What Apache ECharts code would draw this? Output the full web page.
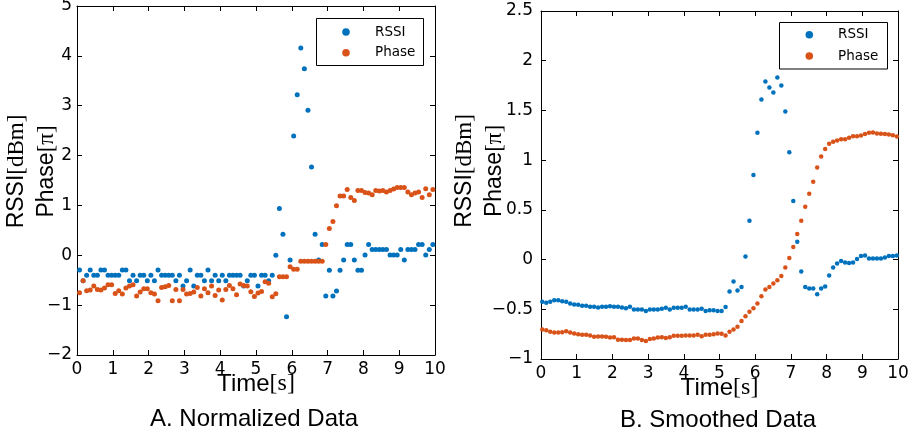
<!DOCTYPE html>
<html><head><meta charset="utf-8">
<script src="https://cdn.jsdelivr.net/npm/echarts@6/dist/echarts.min.js"></script>
<style>html,body{margin:0;padding:0;background:#fff}#c{width:921px;height:442px}</style>
</head><body><div id="c"></div>
<script>
// ---- Data ----
// A. Normalized data: 100 samples
const rssiA = [
 -0.295,-0.51,-0.402,-0.295,-0.402,-0.402,-0.295,-0.295,-0.402,-0.402,
 -0.402,-0.402,-0.295,-0.295,-0.51,-0.402,-0.51,-0.402,-0.402,-0.51,
 -0.402,-0.51,-0.295,-0.402,-0.402,-0.402,-0.402,-0.51,-0.402,-0.617,
 -0.51,-0.295,-0.617,-0.402,-0.402,-0.51,-0.295,-0.51,-0.402,-0.51,
 -0.402,-0.51,-0.402,-0.402,-0.402,-0.402,-0.617,-0.51,-0.402,-0.402,
 -0.617,-0.402,-0.402,-0.51,-0.402,0.0,0.939,0.423,-1.234,-0.094,
 2.394,3.219,4.159,3.742,2.911,1.771,0.423,-0.094,0.215,-0.818,
 -0.302,-0.818,-0.718,-0.302,-0.094,0.215,0.215,-0.094,-0.302,-0.302,
 0.007,0.215,0.114,0.114,0.114,0.114,0.114,0.007,0.007,0.007,
 0.114,-0.094,0.114,0.114,0.114,0.215,0.215,0.007,0.114,0.215
];
const phaseA = [
 -0.751,-0.510,-0.711,-0.698,-0.617,-0.684,-0.698,-0.657,-0.590,-0.590,
 -0.765,-0.711,-0.778,-0.657,-0.617,-0.590,-0.818,-0.738,-0.671,-0.671,
 -0.751,-0.778,-0.912,-0.644,-0.630,-0.604,-0.912,-0.684,-0.912,-0.684,
 -0.778,-0.765,-0.738,-0.644,-0.818,-0.671,-0.751,-0.617,-0.805,-0.698,
 -0.899,-0.684,-0.604,-0.671,-0.791,-0.577,-0.604,-0.617,-0.731,-0.825,
 -0.758,-0.724,-0.530,-0.563,-0.832,-0.771,-0.429,-0.429,-0.429,-0.228,
 -0.282,-0.282,-0.121,-0.121,-0.121,-0.121,-0.121,-0.121,-0.121,0.215,
 0.537,0.677,0.993,1.187,1.187,1.321,1.160,1.100,1.301,1.301,
 1.261,1.247,1.214,1.301,1.288,1.301,1.268,1.301,1.328,1.361,
 1.361,1.361,1.268,1.214,1.247,1.268,1.160,1.335,1.214,1.321
];
// B. Smoothed data: 90 samples
const rssiB = [
 -0.425,-0.435,-0.425,-0.408,-0.408,-0.418,-0.425,-0.442,-0.452,-0.455,
 -0.465,-0.465,-0.475,-0.475,-0.482,-0.475,-0.475,-0.469,-0.475,-0.475,
 -0.482,-0.489,-0.475,-0.502,-0.502,-0.502,-0.516,-0.502,-0.502,-0.502,
 -0.495,-0.485,-0.502,-0.485,-0.485,-0.485,-0.475,-0.502,-0.502,-0.502,
 -0.495,-0.516,-0.509,-0.509,-0.516,-0.516,-0.476,
 -0.32,-0.22,-0.31,-0.275,0.03,0.39,0.85,1.275,1.61,1.79,
 1.73,1.68,1.83,1.75,1.49,1.08,0.59,0.18,-0.12,-0.275,
 -0.29,-0.29,-0.35,-0.29,-0.27,-0.16,-0.08,-0.04,-0.015,-0.03,
 -0.035,-0.03,0.006,0.036,0.04,0.01,0.01,0.01,0.01,0.02,
 0.035,0.035,0.04
];
const phaseB = [
 -0.703,-0.710,-0.726,-0.733,-0.733,-0.730,-0.720,-0.733,-0.743,-0.750,
 -0.756,-0.756,-0.763,-0.777,-0.773,-0.773,-0.777,-0.783,-0.780,-0.806,
 -0.806,-0.810,-0.810,-0.793,-0.793,-0.810,-0.820,-0.800,-0.793,-0.783,
 -0.780,-0.790,-0.780,-0.766,-0.766,-0.766,-0.763,-0.763,-0.763,-0.756,
 -0.770,-0.756,-0.756,-0.750,-0.743,-0.746,-0.763,
 -0.727,-0.703,-0.676,-0.619,-0.569,-0.525,-0.489,-0.442,-0.369,-0.301,
 -0.275,-0.241,-0.208,-0.164,-0.080,0.016,0.127,0.257,0.391,0.532,
 0.662,0.783,0.927,1.037,1.111,1.164,1.184,1.198,1.211,1.211,
 1.225,1.241,1.241,1.248,1.262,1.275,1.278,1.268,1.265,1.262,
 1.258,1.251,1.238
];
// uniform sampling clocks
const timeStartA = 0.07, timeStepA = 0.0997;
const timeStartB = 0.036, timeStepB = 0.1116;
const seriesNames = ['RSSI', 'Phase'];
const titles = ['A. Normalized Data', 'B. Smoothed Data'];

// ---- Styling ----
const BLUE = '#0072BD', ORANGE = '#D95319';
const COLORS = [BLUE, ORANGE];
const TICK_FONT = 'DejaVu Sans';
const pts = (t0, dt, vals) => vals.map((v, i) => [+(t0 + i * dt).toFixed(4), v]);
const fmt = v => String(v).replace('-', '\u2212');

const frameLine = { show: true, onZero: false, lineStyle: { color: '#000', width: 1 } };
const tick = { show: true, inside: true, length: 5, lineStyle: { color: '#000', width: 1 } };
const tickLabel = (margin) => ({ show: true, margin, color: '#000', fontFamily: TICK_FONT, fontSize: 17, formatter: fmt });
const richName = (fs, lh) => ({
  s: { fontFamily: 'Liberation Sans', fontSize: fs, lineHeight: lh, color: '#000' },
  r: { fontFamily: 'Liberation Serif', fontSize: fs, lineHeight: lh, color: '#000' }
});

function xAxes(gi) {
  const base = { type: 'value', gridIndex: gi, min: 0, max: 10, interval: 1,
    axisLine: frameLine, axisTick: tick, splitLine: { show: false } };
  return [
    Object.assign({}, base, { position: 'bottom', axisLabel: tickLabel(6),
      name: '{s|Time}{r|[s]}', nameLocation: 'middle', nameGap: 16, nameMoveOverlap: false,
      nameTextStyle: { rich: richName(24, 26) } }),
    Object.assign({}, base, { position: 'top', axisLabel: { show: false } })
  ];
}
function yAxes(gi, min, max, interval, margin, gap, padLeft) {
  const base = { type: 'value', gridIndex: gi, min, max, interval,
    axisLine: frameLine, axisTick: tick, splitLine: { show: false } };
  return [
    Object.assign({}, base, { position: 'left', axisLabel: tickLabel(margin),
      name: '{s|RSSI}{r|[dBm]}\n{s|Phase}{r|[\u03c0]}', nameLocation: 'middle',
      nameRotate: 90, nameGap: gap, nameMoveOverlap: false,
      nameTextStyle: { rich: richName(23, 30), padding: [0, 0, 0, padLeft] } }),
    Object.assign({}, base, { position: 'right', axisLabel: { show: false } })
  ];
}
// legend box drawn as graphic: [boxLeft, boxTop, boxWidth, boxHeight, markerX, textX, row1Y, row2Y]
function legendGraphic(bx, by, bw, bh, mx, tx, y1, y2) {
  const els = [{ type: 'rect', shape: { x: bx, y: by, width: bw, height: bh },
    style: { fill: '#fff', stroke: '#000', lineWidth: 1 }, z: 100 }];
  [y1, y2].forEach((y, k) => {
    els.push({ type: 'circle', shape: { cx: mx, cy: y, r: 3.8 }, style: { fill: COLORS[k] }, z: 101 });
    els.push({ type: 'text', x: tx, y, z: 101, style: { text: seriesNames[k], fontFamily: TICK_FONT,
      fontSize: 13.5, fill: '#000', align: 'left', verticalAlign: 'middle' } });
  });
  return els;
}
function scatter(name, xi, yi, data, color, size) {
  return { type: 'scatter', name, xAxisIndex: xi, yAxisIndex: yi, data, symbolSize: size,
    itemStyle: { color, opacity: 1 }, silent: true, z: name === 'Phase' ? 3 : 2 };
}

const chart = echarts.init(document.getElementById('c'), null, { renderer: 'canvas' });
chart.setOption({
  animation: false,
  backgroundColor: '#fff',
  grid: [
    { left: 77, top: 6, width: 358, height: 349, containLabel: false, outerBoundsMode: 'none' },
    { left: 541, top: 11, width: 357, height: 348, containLabel: false, outerBoundsMode: 'none' }
  ],
  xAxis: [...xAxes(0), ...xAxes(1)],
  yAxis: [...yAxes(0, -2, 5, 1, 5, 15, 18), ...yAxes(1, -1, 2.5, 0.5, 8, 31, 28)],
  series: [
    scatter('RSSI', 0, 0, pts(timeStartA, timeStepA, rssiA), BLUE, 5),
    scatter('Phase', 0, 0, pts(timeStartA, timeStepA, phaseA), ORANGE, 5),
    scatter('RSSI', 2, 2, pts(timeStartB, timeStepB, rssiB), BLUE, 4.5),
    scatter('Phase', 2, 2, pts(timeStartB, timeStepB, phaseB), ORANGE, 4.5)
  ],
  graphic: [
    ...legendGraphic(316.5, 18.5, 107, 47, 346, 375, 32, 52.7),
    ...legendGraphic(779.5, 22.5, 108, 46.5, 809.3, 838, 34.7, 56),
    { type: 'text', x: 254, y: 419, style: { text: titles[0], fontFamily: 'Liberation Sans', fontSize: 24, fill: '#000', align: 'center', verticalAlign: 'middle' } },
    { type: 'text', x: 718, y: 420, style: { text: titles[1], fontFamily: 'Liberation Sans', fontSize: 24, fill: '#000', align: 'center', verticalAlign: 'middle' } }
  ]
});
</script>
</body></html>
